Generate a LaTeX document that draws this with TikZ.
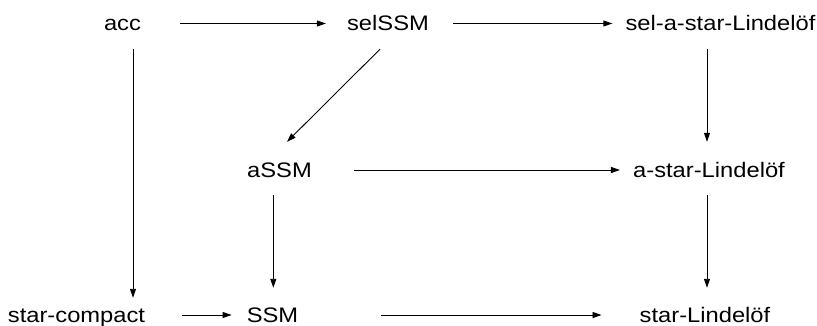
\documentclass[tikz,border=0pt]{standalone}
\usepackage{graphicx}
\usepackage{fontspec}
\setmainfont{Liberation Sans}
\usetikzlibrary{arrows.meta}
\newcommand\stretchtxt[1]{\scalebox{1.13}[1]{#1}}
\tikzset{
  lbl/.style={inner sep=0pt, text height=15pt, text depth=0pt, anchor=center,
              font=\fontsize{21}{25}\selectfont},
  arr/.style={-{Triangle[length=9pt,width=6pt]}, line width=0.9pt, black},
}
\begin{document}
\begin{tikzpicture}[x=1pt,y=-1pt]
\useasboundingbox (0,0) rectangle (817,326);
% nodes
\node[lbl] (acc)    at (122.5,23.5) {\stretchtxt{acc}};
\node[lbl] (selSSM) at (388,23.5)   {\stretchtxt{selSSM}};
\node[lbl] (selast) at (720.5,23.5) {\stretchtxt{sel-a-star-Lindelöf}};
\node[lbl] (aSSM)   at (279.5,170)  {\stretchtxt{aSSM}};
\node[lbl] (ast)    at (709,170)    {\stretchtxt{a-star-Lindelöf}};
\node[lbl] (stc)    at (76.5,315)   {\stretchtxt{star-compact}};
\node[lbl] (SSM)    at (272.5,315)  {\stretchtxt{SSM}};
\node[lbl] (stL)    at (705,315)    {\stretchtxt{star-Lindelöf}};
% horizontal arrows
\draw[arr, shorten <=39pt, shorten >=21pt] (acc.east) -- (selSSM.west);
\draw[arr, shorten <=24pt, shorten >=13pt] (selSSM.east) -- (selast.west);
\draw[arr, shorten <=42pt, shorten >=13pt] (aSSM.east) -- (ast.west);
\draw[arr, shorten <=37pt, shorten >=15pt] (stc.east) -- (SSM.west);
\draw[arr, shorten <=83pt, shorten >=38pt] (SSM.east) -- (stL.west);
% vertical arrows
\draw[arr, shorten >=9.5pt] ([shift={(10.5,18)}]acc.south) -- ([xshift=10.5pt]acc.south |- stc.north);
\draw[arr, shorten >=20.5pt] ([shift={(-13.5,18)}]selast.south) -- ([xshift=-13.5pt]selast.south |- ast.north);
\draw[arr, shorten >=19.5pt] ([shift={(-6.2,17.5)}]aSSM.south) -- ([xshift=-6.2pt]aSSM.south |- SSM.north);
\draw[arr, shorten >=19.5pt] ([shift={(-2,17.5)}]ast.south) -- ([xshift=-2pt]ast.south |- stL.north);
% diagonal
\draw[arr] ([shift={(-8,18)}]selSSM.south) -- ([shift={(7.5,-20.5)}]aSSM.north);
\end{tikzpicture}
\end{document}
